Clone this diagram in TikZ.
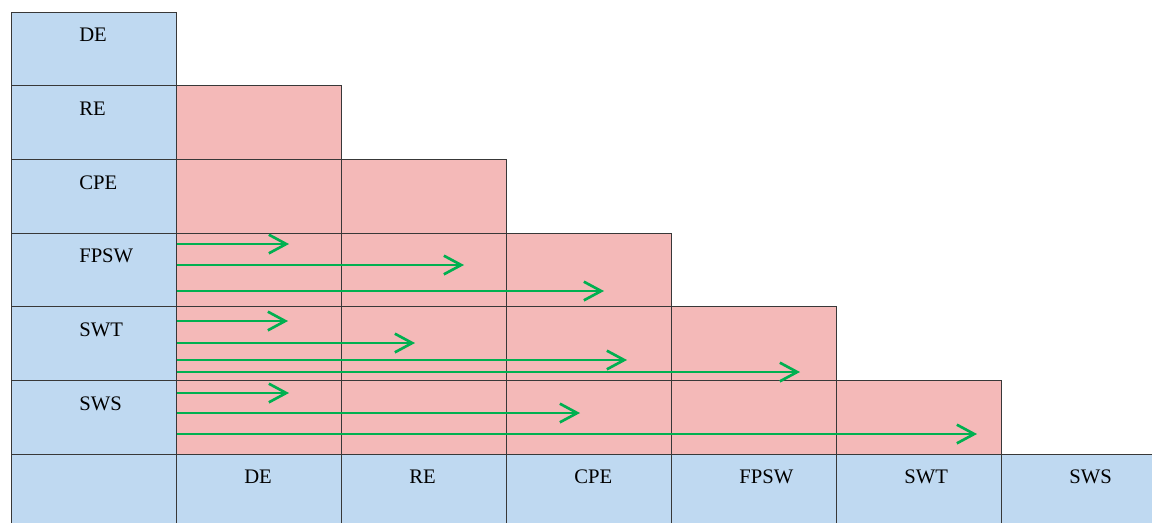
\documentclass[tikz,border=0pt]{standalone}
\usepackage{fontspec}
\setmainfont{Liberation Serif}
\usetikzlibrary{arrows.meta}
\definecolor{hdrblue}{HTML}{BFD9F1}
\definecolor{cellpink}{HTML}{F4B9B8}
\definecolor{gridline}{HTML}{383838}
\definecolor{flowgreen}{HTML}{00B050}
\begin{document}
\begin{tikzpicture}[x=0.75pt,y=-0.75pt,
  cell/.style={draw=gridline, line width=0.7pt, minimum width=123.75pt,
    minimum height=55.25pt, inner sep=0pt, outer sep=0pt, anchor=north west},
  hdr/.style={cell, fill=hdrblue},
  hit/.style={cell, fill=cellpink},
  lbl/.style={font=\fontsize{15.5}{18}\selectfont, inner sep=0pt, anchor=west},
  flow/.style={draw=flowgreen, line width=2pt,
    -{Straight Barb[length=13pt,width=14pt,line width=2pt]}}]
  \useasboundingbox (0,0) rectangle (1152,522);
  \fill[white] (0,0) rectangle (1152,522);
  \clip (0,0) rectangle (1152,522);

  % row headers (left column)
  \foreach \t [count=\i from 0] in {DE,RE,CPE,FPSW,SWT,SWS} {
    \node[hdr] (b\i) at (11, 12+73.67*\i) {};
    \node[lbl] (bl\i) at ([xshift=51pt,yshift=-17.25pt]b\i.north west) {\t};
  }
  \node[hdr] (b6) at (11, 12+73.67*6) {};

  % column headers (bottom row)
  \foreach \t [count=\i] in {DE,RE,CPE,FPSW,SWT,SWS} {
    \node[hdr] (c\i) at (11+165*\i, 454) {};
    \node[lbl] (cl\i) at ([xshift=51pt,yshift=-17.25pt]c\i.north west) {\t};
  }

  % lower-triangular pairings
  \foreach \r in {1,...,5} {
    \foreach \c in {1,...,\r} {
      \node[hit] (p\r\c) at (11+165*\c, 12+73.67*\r) {};
    }
  }

  % dependency arrows
  \foreach \y/\x [count=\k] in {244/289, 265/464, 291/604,
                                321/288, 343/415, 360/627, 372/800,
                                393/289, 413/580, 434/977} {
    \coordinate (fs\k) at (177,\y);
    \coordinate (fe\k) at (\x,\y);
    \draw[flow] (fs\k) -- (fe\k);
  }
\end{tikzpicture}
\end{document}
